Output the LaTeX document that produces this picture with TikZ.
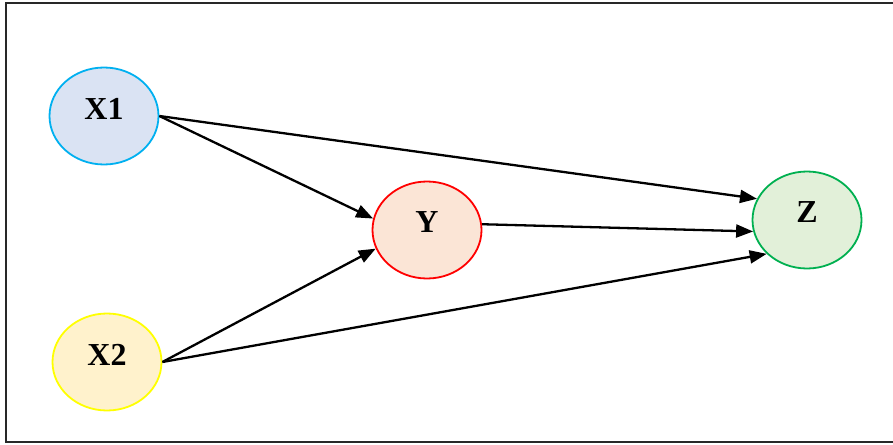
\documentclass[tikz,border=0pt]{standalone}
\usepackage{fontspec}
\setmainfont{Liberation Serif}
\usetikzlibrary{arrows.meta,shapes.geometric}
\definecolor{xonefill}{RGB}{218,227,243}
\definecolor{xonedraw}{RGB}{0,176,240}
\definecolor{xtwofill}{RGB}{255,242,204}
\definecolor{xtwodraw}{RGB}{255,255,0}
\definecolor{yfill}{RGB}{251,229,214}
\definecolor{ydraw}{RGB}{255,0,0}
\definecolor{zfill}{RGB}{226,240,217}
\definecolor{zdraw}{RGB}{0,176,80}
\definecolor{frame}{RGB}{40,40,40}
\tikzset{
  var/.style={ellipse, draw, line width=1.8pt, minimum width=109pt, minimum height=97pt,
    inner sep=0pt, font=\fontsize{32}{32}\selectfont\bfseries, text depth=15pt},
  link/.style={line width=2.3pt, -{Triangle[length=17pt,width=13pt]}, shorten >=0pt}
}
\begin{document}
\begin{tikzpicture}[x=1pt,y=-1pt]
\useasboundingbox (0,0) rectangle (893,444);
\draw[frame, line width=2.6pt] (6,3) rectangle (905,442);
\node[var, draw=xonedraw, fill=xonefill] (X1) at (104,116) {X1};
\node[var, draw=xtwodraw, fill=xtwofill] (X2) at (107,362) {X2};
\node[var, draw=ydraw, fill=yfill] (Y) at (427,230) {Y};
\node[var, draw=zdraw, fill=zfill] (Z) at (807,220) {Z};
\draw[link] (X1.east) -- (Y.168);
\draw[link] (X1.east) -- (Z.157);
\draw[link] (X2.east) -- (Y.200);
\draw[link] (X2.east) -- (Z.220);
\draw[link] (Y.6) -- (Z.192);
\end{tikzpicture}
\end{document}
